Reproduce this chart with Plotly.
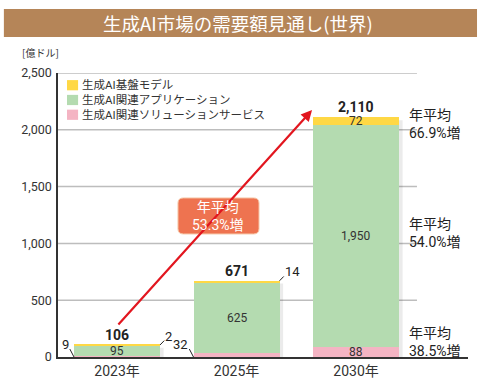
import plotly.graph_objects as go

# ---- data ----
years = ["2023年", "2025年", "2030年"]
solutions = [9, 32, 88]        # 生成AI関連ソリューションサービス (pink, bottom)
applications = [95, 625, 1950]  # 生成AI関連アプリケーション (green)
foundation = [2, 14, 72]        # 生成AI基盤モデル (yellow, top)
series_names = ["生成AI関連ソリューションサービス", "生成AI関連アプリケーション", "生成AI基盤モデル"]
totals_lbl = ["106", "671", "2,110"]
cagr_overall = "53.3%"
cagr_segments = ["66.9%", "54.0%", "38.5%"]  # foundation, applications, solutions
y_ticks = [0, 500, 1000, 1500, 2000, 2500]
y_tick_text = ["0", "500", "1,000", "1,500", "2,000", "2,500"]

# ---- styles ----
C_PINK = "#F4B4C3"
C_GREEN = "#B4DBB0"
C_YELLOW = "#FFD845"
COLORS = [C_PINK, C_GREEN, C_YELLOW]
C_RED = "#E2161F"
C_BOX = "#EE7350"
C_BANNER = "#B58558"
TXT = "#333333"
FONT = "Roboto, Noto Sans CJK JP, sans-serif"
JP = "Noto Sans CJK JP, sans-serif"

xs = list(range(len(years)))
BW = 0.72

fig = go.Figure()
for vals, name, col in zip([solutions, applications, foundation], series_names, COLORS):
    fig.add_bar(x=xs, y=vals, name=name, marker=dict(color=col, line=dict(width=0)), width=BW,
                hoverinfo="skip")

totals = [s + a + f for s, a, f in zip(solutions, applications, foundation)]

shapes = []
anns = []
# gridlines (stop before the right-side annotations)
for t in y_ticks[1:]:
    shapes.append(dict(type="line", xref="x", yref="y", x0=-0.494, x1=2.51, y0=t, y1=t,
                       line=dict(color="#BDBDBD", width=1.5), layer="below"))
# faint bar shadows
for i, tot in enumerate(totals):
    shapes.append(dict(type="rect", xref="x", yref="y", x0=i - BW/2 + 0.03, x1=i + BW/2 + 0.03,
                       y0=0, y1=tot - 25, fillcolor="rgba(0,0,0,0.08)", line=dict(width=0),
                       layer="below"))

# title banner
shapes.append(dict(type="rect", xref="paper", yref="paper", x0=-0.132, x1=1.022,
                   y0=1.127, y1=1.225, fillcolor=C_BANNER, line=dict(width=0)))
anns.append(dict(xref="paper", yref="paper", x=0.44, y=1.176, text="生成AI市場の需要額見通し(世界)",
                 showarrow=False, font=dict(family=JP, size=18.5, color="white"),
                 xanchor="center", yanchor="middle"))
# unit
anns.append(dict(xref="paper", yref="paper", x=-0.092, y=1.04, text="[億ドル]",
                 showarrow=False, font=dict(family=JP, size=10, color=TXT),
                 xanchor="left", yanchor="bottom"))

# manual legend (top entry = top of stack)
order = [2, 1, 0]
leg_rows_y = [0.957, 0.905, 0.853]
for k, idx in enumerate(order):
    yc = leg_rows_y[k]
    shapes.append(dict(type="rect", xref="paper", yref="paper", x0=0.022, x1=0.049,
                       y0=yc - 0.018, y1=yc + 0.018, fillcolor=COLORS[idx], line=dict(width=0)))
    anns.append(dict(xref="paper", yref="paper", x=0.057, y=yc, text=series_names[idx],
                     showarrow=False, xanchor="left", yanchor="middle", align="left",
                     borderpad=0, font=dict(family=FONT, size=11.5, color=TXT)))

# totals
for i, (tot, lbl) in enumerate(zip(totals, totals_lbl)):
    anns.append(dict(x=i, y=tot, text="<b>%s</b>" % lbl, showarrow=False, yanchor="bottom",
                     yshift=0, font=dict(family=FONT, size=14, color="#222")))

# inside labels
for i in xs:
    anns.append(dict(x=i, y=solutions[i] + applications[i] / 2, text=f"{applications[i]:,}",
                     showarrow=False, font=dict(family=FONT, size=12, color=TXT)))
anns.append(dict(x=2, y=solutions[2] / 2, text=f"{solutions[2]:,}", showarrow=False,
                 font=dict(family=FONT, size=12, color=TXT)))
anns.append(dict(x=2, y=solutions[2] + applications[2] + foundation[2] / 2, text=f"{foundation[2]:,}",
                 showarrow=False, font=dict(family=FONT, size=12, color=TXT)))

# leader-line labels for thin segments
def leader(x0, y0, dx, dy, text, anchor):
    shapes.append(dict(type="line", xref="x", yref="y", x0=x0, y0=y0, x1=x0 + dx, y1=y0 + dy,
                       line=dict(color="#222", width=1)))
    anns.append(dict(x=x0 + dx, y=y0 + dy, text=text, showarrow=False, xanchor=anchor,
                     yanchor="bottom", yshift=-5, xshift=(1 if anchor == "right" else -1),
                     font=dict(family=FONT, size=13, color="#222")))

leader(0 - BW/2, 0, -0.035, 70, str(solutions[0]), "right")
leader(0 + BW/2, totals[0], 0.035, 38, str(foundation[0]), "left")
leader(1 - BW/2, 0, -0.035, 70, str(solutions[1]), "right")
leader(1 + BW/2, totals[1], 0.035, 38, str(foundation[1]), "left")

# right-side CAGR labels
seg_y = [totals[2] - foundation[2] / 2 - 20,
         solutions[2] + applications[2] / 2 + 30,
         solutions[2] / 2 + 90]
for yv, pct in zip(seg_y, cagr_segments):
    anns.append(dict(x=2.425, y=yv, text=f"年平均<br>{pct}増", showarrow=False,
                     xanchor="left", yanchor="middle", align="left",
                     font=dict(family=FONT, size=14, color="#222")))

# big red arrow
anns.append(dict(x=1.632, y=2174, ax=0.0, ay=273, axref="x", ayref="y", xref="x", yref="y",
                 text="", showarrow=True, arrowhead=2, arrowsize=1.0, arrowwidth=2.2,
                 arrowcolor=C_RED))

# callout box (rounded)
bx0, bx1, by0, by1 = 0.51, 1.188, 1083, 1400
rx, ry = 0.045, 45
path = (f"M {bx0+rx},{by0} L {bx1-rx},{by0} Q {bx1},{by0} {bx1},{by0+ry} "
        f"L {bx1},{by1-ry} Q {bx1},{by1} {bx1-rx},{by1} L {bx0+rx},{by1} "
        f"Q {bx0},{by1} {bx0},{by1-ry} L {bx0},{by0+ry} Q {bx0},{by0} {bx0+rx},{by0} Z")
shapes.append(dict(type="path", xref="x", yref="y", path=path, fillcolor=C_BOX,
                   line=dict(color="#F6C7A8", width=1), layer="above"))
anns.append(dict(x=(bx0 + bx1) / 2, y=(by0 + by1) / 2, text=f"年平均<br>{cagr_overall}増",
                 showarrow=False, font=dict(family=FONT, size=14, color="white"),
                 xanchor="center", yanchor="middle"))

fig.update_layout(
    width=481, height=379,
    margin=dict(l=58, r=13, t=73, b=22, autoexpand=False),
    paper_bgcolor="white", plot_bgcolor="white",
    barmode="stack",
    showlegend=False,
    hovermode=False,
    xaxis=dict(range=[-0.494, 2.937], tickvals=xs, ticktext=years, showgrid=False,
               showline=True, linecolor="#333", linewidth=1.5, ticks="", automargin=False,
               tickfont=dict(family=FONT, size=14, color=TXT), zeroline=False, fixedrange=True),
    yaxis=dict(range=[0, 2500], tickvals=y_ticks, ticktext=y_tick_text, showgrid=False,
               showline=True, linecolor="#333", linewidth=1.5, ticks="", zeroline=False,
               automargin=False, fixedrange=True,
               tickfont=dict(family=FONT, size=12.5, color=TXT), ticklabelstandoff=2),
    shapes=shapes, annotations=anns,
)

fig.write_html("out.html", config={"displayModeBar": False},
               post_script="document.body.style.margin='0px';document.body.style.padding='0px';")
